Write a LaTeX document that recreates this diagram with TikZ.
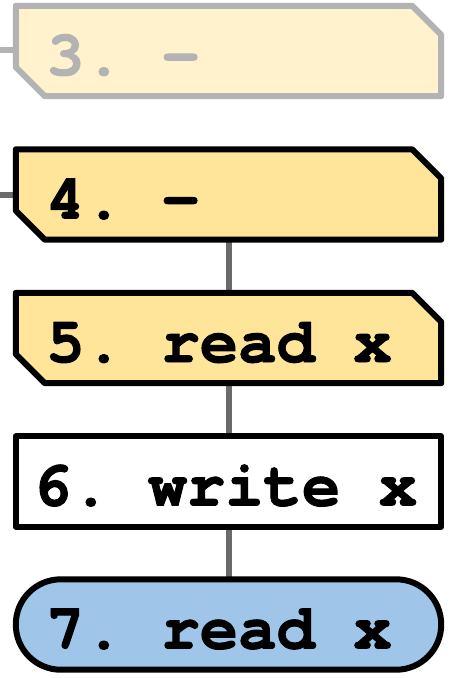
\documentclass[tikz,border=0pt]{standalone}
\usepackage{fontspec}
\setmonofont{TeX Gyre Cursor}[BoldFeatures={FakeBold=1.5}]
\usetikzlibrary{calc}
\definecolor{fadedline}{HTML}{B3B3B3}
\definecolor{fadedfill}{HTML}{FFF2CC}
\definecolor{stepfill}{HTML}{FFE599}
\definecolor{endfill}{HTML}{9FC5E8}
\definecolor{linkgray}{HTML}{6B6B6B}
% chamfered outline (top-right and bottom-left corners cut) around a slot node
\newcommand\chamferoutline[2]{%
  \draw[#2] (#1.north west) -- ([xshift=-29pt]#1.north east)
    -- ([yshift=-29pt]#1.north east) -- (#1.south east)
    -- ([xshift=29pt]#1.south west) -- ([yshift=29pt]#1.south west) -- cycle;}
\begin{document}
\begin{tikzpicture}[x=1pt,y=-1pt,
  slot/.style={rectangle, minimum width=425pt, minimum height=90pt, inner sep=0pt, draw=none},
  outline/.style={line width=6pt, line join=round},
  link/.style={draw=linkgray, line width=6pt},
  code/.style={font=\ttfamily\bfseries\fontsize{64}{64}\selectfont, anchor=base west, inner sep=0pt}]
\useasboundingbox (0,0) rectangle (453,678);
% step slots
\node[slot] (s3) at (228.5,51) {};
\node[slot] (s4) at (228.5,194.5) {};
\node[slot] (s5) at (228.5,338) {};
\node[slot] (s6) at (228.5,481.5) {};
\node[slot] (s7) at (228.5,624.5) {};
\coordinate (in3) at (0,50);
\coordinate (in4) at (0,195);
% connectors (behind the boxes)
\draw[link, draw=fadedline] (in3) -- (s3.west |- in3);
\draw[link] (in4) -- (s4.west |- in4);
\draw[link] (s4.south) -- (s5.north);
\draw[link] (s5.south) -- (s6.north);
\draw[link] (s6.south) -- (s7.north);
% boxes
\chamferoutline{s3}{outline, draw=fadedline, fill=fadedfill}
\chamferoutline{s4}{outline, draw=black, fill=stepfill}
\chamferoutline{s5}{outline, draw=black, fill=stepfill}
\draw[outline, fill=white] (s6.north west) rectangle (s6.south east);
\draw[outline, fill=endfill, rounded corners=45pt] (s7.north west) rectangle (s7.south east);
% labels
\node[code, text=fadedline] (t3) at (46,75) {3. -};
\node[code] (t4) at (46,218.5) {4. -};
\node[code] (t5) at (46,362) {5. read x};
\node[code] (t6) at (33,505.5) {6. write x};
\node[code] (t7) at (46,648.5) {7. read x};
\end{tikzpicture}
\end{document}
